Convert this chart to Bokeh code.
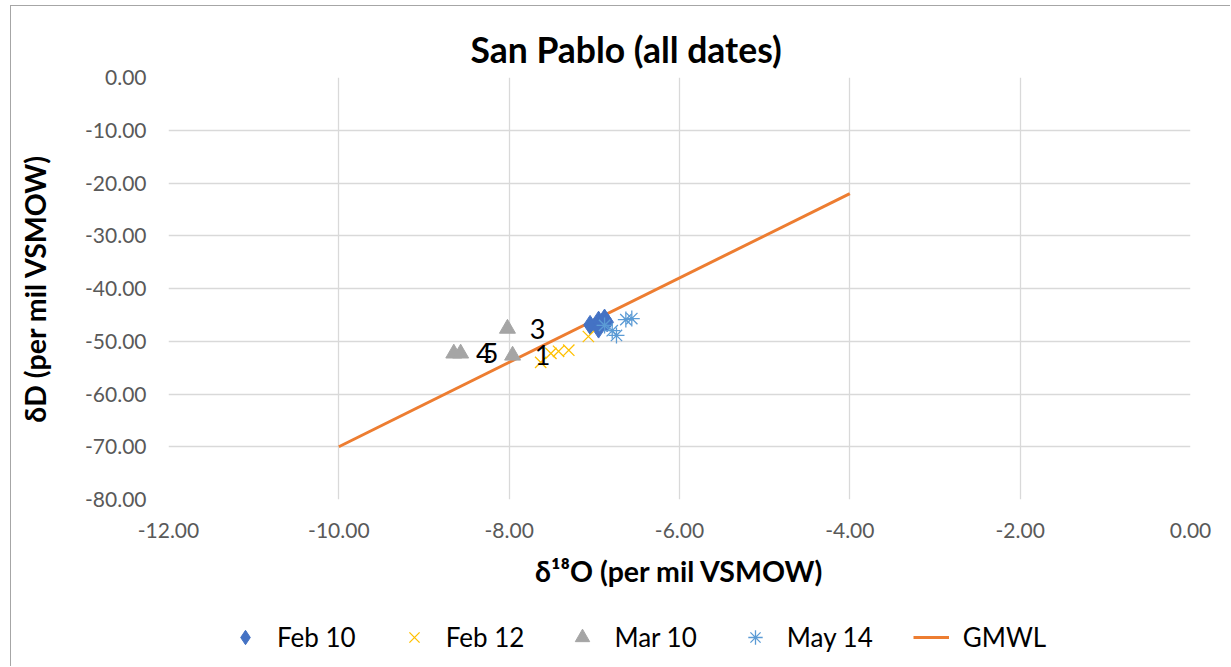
from bokeh.plotting import figure
from bokeh.layouts import column
from bokeh.models import Range1d, Legend, LegendItem, ColumnDataSource, Title, NumeralTickFormatter, FixedTicker
from bokeh.core.properties import value
from bokeh.embed import file_html
from bokeh.resources import INLINE

FONT = "Lato"

# Data
feb10_x = [-7.05, -6.95, -6.88, -6.85, -6.95]
feb10_y = [-46.9, -46.1, -45.7, -46.4, -47.6]
feb12_x = [-7.63, -7.51, -7.42, -7.30, -7.07]
feb12_y = [-54.0, -52.3, -51.9, -51.7, -49.1]
mar10_x = [-7.96, -8.02, -8.65, -8.57]
mar10_y = [-52.7, -47.6, -52.3, -52.3]
mar10_labels = ["1", "3", "4", "5"]
may14_x = [-6.88, -6.79, -6.74, -6.63, -6.56]
may14_y = [-47.0, -48.0, -48.9, -45.9, -45.7]
gmwl_x = [-10.0, -4.0]
gmwl_y = [-70.0, -22.0]
series_names = ["Feb 10", "Feb 12", "Mar 10", "May 14", "GMWL"]

x_ticks = [-12, -10, -8, -6, -4, -2, 0]
y_ticks = [0, -10, -20, -30, -40, -50, -60, -70, -80]

COL_FEB10 = "#4472C4"
COL_FEB12 = "#FFC000"
COL_MAR10 = "#A5A5A5"
COL_MAY14 = "#5B9BD5"
COL_GMWL = "#ED7D31"


def add_series(fig):
    r_g = fig.line(gmwl_x, gmwl_y, line_color=COL_GMWL, line_width=3)
    r_a = fig.scatter(feb10_x, feb10_y, marker="diamond", size=19, fill_color=COL_FEB10,
                      line_color=COL_FEB10)
    r_b = fig.scatter(feb12_x, feb12_y, marker="x", size=16, line_color=COL_FEB12, line_width=1.3)
    r_c = fig.scatter(mar10_x, mar10_y, marker="triangle", size=16, fill_color=COL_MAR10,
                      line_color=COL_MAR10)
    r_d = fig.scatter(may14_x, may14_y, marker="asterisk", size=16, line_color=COL_MAY14,
                      line_width=1.3)
    return [r_a, r_b, r_c, r_d, r_g]


p = figure(width=1219, height=593, output_backend="svg", toolbar_location=None,
           x_range=Range1d(-12, 0), y_range=Range1d(-80, 0),
           frame_width=1022, frame_height=422,
           min_border_left=157, min_border_right=40, min_border_top=71, min_border_bottom=100)

p.outline_line_color = None
p.background_fill_color = "white"
p.border_fill_color = "white"

for ax in (p.xaxis[0], p.yaxis[0]):
    ax.axis_line_color = None
    ax.major_tick_line_color = None
    ax.minor_tick_line_color = None
    ax.major_label_text_font = FONT
    ax.major_label_text_font_size = "21px"
    ax.major_label_text_color = "#595959"
    ax.axis_label_text_font = FONT
    ax.axis_label_text_font_size = "28.5px"
    ax.axis_label_text_font_style = "bold"
    ax.axis_label_text_color = "black"
    ax.formatter = NumeralTickFormatter(format="0.00")

p.xaxis.ticker = FixedTicker(ticks=x_ticks)
p.yaxis.ticker = FixedTicker(ticks=y_ticks)
p.xaxis.axis_label = "δ¹⁸O (per mil VSMOW)"
p.yaxis.axis_label = "δD (per mil VSMOW)"
p.xaxis.major_label_standoff = 17
p.yaxis.major_label_standoff = 16
p.xaxis.axis_label_standoff = 13
p.yaxis.axis_label_standoff = 30

p.xgrid.ticker = FixedTicker(ticks=x_ticks)
p.ygrid.ticker = FixedTicker(ticks=y_ticks)
p.xgrid.grid_line_color = "#d9d9d9"
p.ygrid.grid_line_color = "#d9d9d9"
p.xgrid.grid_line_width = 1.3
p.ygrid.grid_line_width = 1.3

t = Title(text="San Pablo (all dates)", align="left", text_font=FONT,
          text_font_size="35.5px", text_font_style="bold", text_color="black",
          offset=302, standoff=13)
p.add_layout(t, "above")

add_series(p)

src = ColumnDataSource(dict(x=mar10_x, y=mar10_y, t=mar10_labels))
p.text(x="x", y="y", text="t", source=src, x_offset=30, text_align="center",
       text_baseline="middle", text_font=value(FONT), text_font_size="27px", text_color="black")

# Legend strip: a second figure whose range (0..1) keeps the series out of view,
# so only the legend entries are shown.
q = figure(width=1219, height=67, output_backend="svg", toolbar_location=None,
           x_axis_type=None, y_axis_type=None, frame_width=1219, frame_height=67,
           min_border=0, x_range=Range1d(0, 1), y_range=Range1d(0, 1))
q.outline_line_color = None
q.grid.visible = False
q.background_fill_color = "white"
q.border_fill_color = "white"

legend_renderers = add_series(q)

legend = Legend(items=[LegendItem(label=n, renderers=[r]) for n, r in
                       zip(series_names, legend_renderers)],
                orientation="horizontal", location=(216, 11))
legend.border_line_color = None
legend.background_fill_alpha = 0
legend.label_text_font = FONT
legend.label_text_font_size = "26px"
legend.label_text_color = "black"
legend.spacing = 40
legend.glyph_width = 36
legend.glyph_height = 36
legend.label_standoff = 14
legend.margin = 0
legend.padding = 5
q.add_layout(legend, "center")

layout = column(p, q, spacing=0)
layout.styles = {"margin-left": "10px", "margin-top": "5px",
                 "border-left": "1px solid #a6a6a6", "border-top": "1px solid #a6a6a6"}

open("out.html", "w").write(file_html(layout, INLINE))
